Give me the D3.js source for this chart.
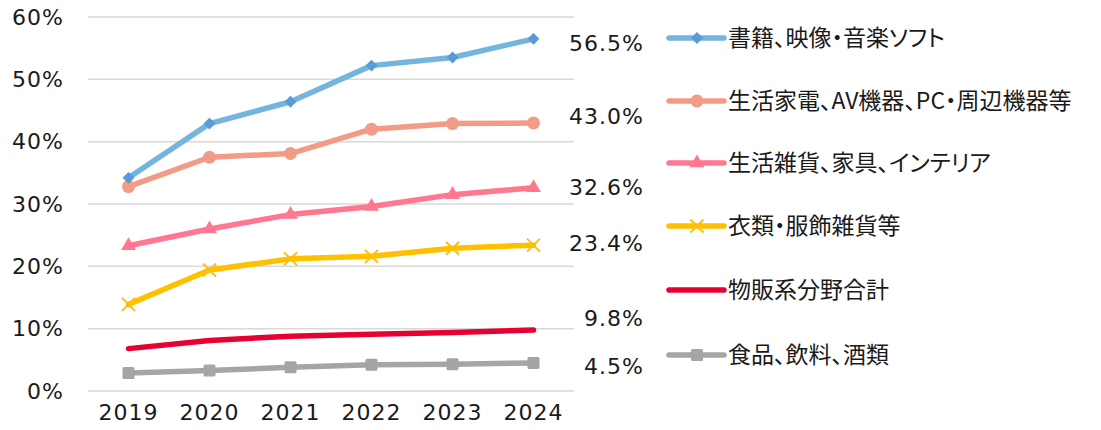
<!DOCTYPE html>
<html>
<head>
<meta charset="utf-8">
<script src="https://cdn.jsdelivr.net/npm/d3@7"></script>
<style>
  html, body { margin: 0; padding: 0; background: #fff; }
  svg { display: block; }
  .jp { font-feature-settings: "palt"; }
</style>
</head>
<body>
<svg id="chart" width="1101" height="430"></svg>
<script>
// EC penetration rate by product category (%)
const years = ["2019", "2020", "2021", "2022", "2023", "2024"];
const seriesNames = [
  "書籍、映像・音楽ソフト",
  "生活家電、AV機器、PC・周辺機器等",
  "生活雑貨、家具、インテリア",
  "衣類・服飾雑貨等",
  "物販系分野合計",
  "食品、飲料、酒類"
];
const books      = [34.2, 42.9, 46.4, 52.2, 53.5, 56.5];
const appliances = [32.8, 37.5, 38.1, 42.0, 42.9, 43.0];
const household  = [23.3, 26.0, 28.3, 29.6, 31.5, 32.6];
const clothing   = [13.9, 19.4, 21.2, 21.6, 22.9, 23.4];
const total      = [6.8, 8.1, 8.8, 9.1, 9.4, 9.8];
const food       = [2.9, 3.3, 3.8, 4.2, 4.3, 4.5];
const yTicks = [0, 10, 20, 30, 40, 50, 60];

const seriesValues = [books, appliances, household, clothing, total, food];
const styles = [
  { line: "#74B5DD", mark: "#5B9BD5", shape: "diamond" },
  { line: "#F29C87", mark: "#F29C87", shape: "circle" },
  { line: "#FF7890", mark: "#FF7890", shape: "triangle" },
  { line: "#FFC000", mark: "#FFC000", shape: "cross" },
  { line: "#E60033", mark: "#E60033", shape: "none" },
  { line: "#A5A5A5", mark: "#A5A5A5", shape: "square" }
];
// vertical nudges of the end-value labels (px)
const labelDy = [4, -7, 0, -2, -12, 3];

const svg = d3.select("#chart");
const numFont = "'DejaVu Sans', Verdana, sans-serif";
const jpFont = "'Noto Sans CJK JP', sans-serif";

const x = d3.scaleBand().domain(years).range([88, 574]);
const y = d3.scaleLinear().domain([0, 60]).range([391, 17]);
const cx = d => x(d) + x.bandwidth() / 2;

// gridlines
svg.append("g").selectAll("line").data(yTicks).join("line")
  .attr("x1", 88).attr("x2", 574)
  .attr("y1", d => y(d)).attr("y2", d => y(d))
  .attr("stroke", "#D9D9D9").attr("stroke-width", 1.5);

// y axis labels
const yAxis = svg.append("g").attr("transform", "translate(64,0)")
  .call(d3.axisLeft(y).tickValues(yTicks).tickFormat(d => d + "%").tickSize(0).tickPadding(0));
yAxis.select(".domain").remove();
yAxis.selectAll("text").attr("font-family", numFont).attr("font-size", 22)
  .attr("letter-spacing", 1).attr("fill", "#1a1a1a");

// x axis labels
const xAxis = svg.append("g").attr("transform", "translate(0,404)")
  .call(d3.axisBottom(x).tickSize(0).tickPadding(0));
xAxis.select(".domain").remove();
xAxis.selectAll("text").attr("font-family", numFont).attr("font-size", 22)
  .attr("letter-spacing", 1).attr("fill", "#1a1a1a").attr("dy", "0.71em");

function drawMarker(g, shape, color, px, py) {
  if (shape === "none") return;
  if (shape === "diamond") {
    g.append("path").attr("d", d3.symbol(d3.symbolDiamond2, 90)())
      .attr("transform", `translate(${px},${py})`).attr("fill", color);
  } else if (shape === "circle") {
    g.append("circle").attr("cx", px).attr("cy", py).attr("r", 6.5).attr("fill", color);
  } else if (shape === "triangle") {
    g.append("path").attr("d", d3.symbol(d3.symbolTriangle, 95)())
      .attr("transform", `translate(${px},${py})`).attr("fill", color);
  } else if (shape === "square") {
    g.append("rect").attr("x", px - 6).attr("y", py - 6).attr("width", 12).attr("height", 12)
      .attr("rx", 1.5).attr("fill", color);
  } else if (shape === "cross") {
    const r = 6.5;
    g.append("path").attr("d", `M${px - r},${py - r}L${px + r},${py + r}M${px - r},${py + r}L${px + r},${py - r}`)
      .attr("stroke", color).attr("stroke-width", 2).attr("fill", "none");
  }
}

const line = d3.line().x((d, i) => cx(years[i])).y(d => y(d));

// draw series bottom-up so the top series sits over the others
for (let k = seriesValues.length - 1; k >= 0; k--) {
  const vals = seriesValues[k], st = styles[k];
  const g = svg.append("g");
  g.append("path").datum(vals).attr("d", line)
    .attr("fill", "none").attr("stroke", st.line).attr("stroke-width", 5.5)
    .attr("stroke-linecap", "round").attr("stroke-linejoin", "round");
  vals.forEach((v, i) => drawMarker(g, st.shape, st.mark, cx(years[i]), y(v)));
}

// end-value labels
svg.append("g").selectAll("text").data(seriesValues).join("text")
  .attr("x", 644).attr("y", (d, i) => y(d[d.length - 1]) + labelDy[i])
  .attr("dy", "0.35em").attr("text-anchor", "end")
  .attr("font-family", numFont).attr("font-size", 22).attr("letter-spacing", 1)
  .attr("fill", "#1a1a1a")
  .text(d => d[d.length - 1].toFixed(1) + "%");

// legend
const legendY = [38, 101, 163, 226, 290, 355];
const lg = svg.append("g");
seriesNames.forEach((name, i) => {
  const st = styles[i], ly = legendY[i];
  lg.append("line").attr("x1", 669).attr("x2", 724).attr("y1", ly).attr("y2", ly)
    .attr("stroke", st.line).attr("stroke-width", 5.5).attr("stroke-linecap", "round");
  drawMarker(lg, st.shape, st.mark, 697, ly);
  lg.append("text").attr("class", "jp").attr("x", 728).attr("y", ly).attr("dy", "0.36em")
    .attr("font-family", jpFont).attr("font-size", 23).attr("fill", "#1a1a1a")
    .text(name);
});
</script>
</body>
</html>
